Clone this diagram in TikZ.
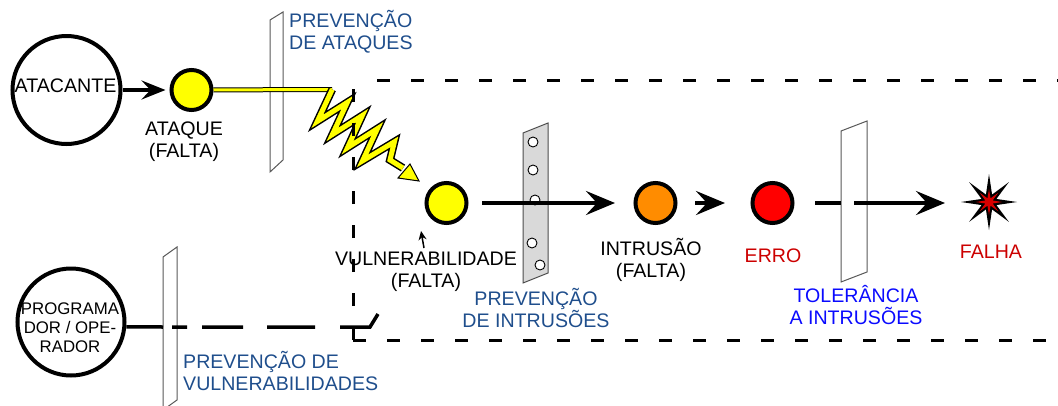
\documentclass[tikz,border=0pt]{standalone}
\usepackage{fontspec}
\setmainfont{Liberation Sans}
\usetikzlibrary{arrows.meta,calc}
\definecolor{dblue}{HTML}{1F4E8C}
\definecolor{tblue}{HTML}{0A0AFF}
\definecolor{dred}{HTML}{CC0000}
\definecolor{orng}{HTML}{FF8C00}
\definecolor{yel}{HTML}{FFFF00}
\definecolor{platefill}{HTML}{D9D9D9}
\newcommand\twoc[2]{\vtop{\halign{\hfil##\hfil\cr#1\cr#2\cr}}}
\newcommand\twol[2]{\vtop{\halign{##\hfil\cr#1\cr#2\cr}}}
\newcommand\threec[3]{\vtop{\halign{\hfil##\hfil\cr#1\cr#2\cr#3\cr}}}
\begin{document}
\begin{tikzpicture}[x=1pt,y=-1pt,
  lbl/.style={font=\fontsize{19.6}{22.5}\selectfont, inner sep=0pt, anchor=base},
  ball/.style={circle, draw, line width=4pt, minimum size=40pt, inner sep=0pt},
  bigc/.style={circle, draw, line width=4pt, minimum size=108pt, inner sep=0pt},
  arr/.style={line width=4pt, -{Stealth[length=29pt,width=24pt,inset=11pt]}},
  plane/.style={draw=black!65, line width=1pt, fill=white},
  frame/.style={line width=3pt, dash pattern=on 13pt off 21pt},
]
\useasboundingbox (0,0) rectangle (1058,405);
\clip (0,0) rectangle (1058,405);

% attacker and attack
\node[bigc] (atacante) at (66.5,90) {};
\node[lbl] (tatac) at (65.5,92) {ATACANTE};
\node[ball, fill=yel] (ataque) at (191.5,90) {};
\node[lbl] (tataq) at (184,135) {\twoc{ATAQUE}{(FALTA)}};
\draw[line width=3.5pt, -{Stealth[length=24pt,width=19pt,inset=9pt]}, shorten >=4pt] (atacante) -- (ataque);

% attack prevention plane
\draw[plane] (270,20) -- (283,12) -- (283,160) -- (270,172) -- cycle;
\node[lbl, anchor=base west, text=dblue] (tpa) at (289,27) {\twol{PREVENÇÃO}{DE ATAQUES}};

% lightning
\coordinate (bolt0) at (332.2,89.5);
\draw[line width=5pt] (ataque) -- (bolt0);
\draw[line width=3pt, yel] (ataque) -- (bolt0);
\def\boltpath{(bolt0) -- (317.3,121.4) -- (347.3,102.4) -- (332.4,134.5) -- (362.3,115.5) -- (347.5,147.7) -- (377.4,128.7) -- (362.5,160.9) -- (394.4,141.8) -- (390,160) -- (403,168)}
\draw[line width=8pt, line join=miter] \boltpath;
\draw[line width=5pt, line join=miter, yel] \boltpath;
\draw[line width=1pt, fill=yel, line join=miter] (398,178) -- (410,164) -- (419,181) -- cycle;

% programmer
\node[bigc, minimum size=107pt] (prog) at (71,322) {};
\node[lbl, font=\fontsize{16.8}{19}\selectfont] (tprog) at (70,314) {\threec{PROGRAMA}{DOR / OPE-}{RADOR}};
\draw[plane] (163,257) -- (177,247) -- (177,400) -- (163,410) -- cycle;
\coordinate (pv) at (163,327);
\draw[line width=3.5pt] (prog.-5) -- (pv);
\coordinate (d0) at (172,327);
\coordinate (d1) at (370,327);
\coordinate (d2) at (378,314);
\draw[line width=3.5pt, dash pattern=on 15pt off 15pt on 41pt off 24pt on 48pt off 25pt on 100pt] (d0) -- (d1) -- (d2);
\node[lbl, anchor=base west, text=dblue] (tpv) at (183,368) {\twol{PREVENÇÃO DE}{VULNERABILIDADES}};

% vulnerability
\node[ball, fill=yel] (vuln) at (446.5,203) {};
\node[lbl] (tvuln) at (426,265) {\twoc{VULNERABILIDADE}{(FALTA)}};
\coordinate (sa0) at (424,248);
\coordinate (sa1) at (421,231);
\draw[line width=1.5pt, -{Stealth[length=9pt,width=8pt]}] (sa0) -- (sa1);

% dashed frame
\draw[frame] (377,80) -- (1058,80);
\draw[frame] (353,340) -- (353,80);
\draw[frame] (353,340) -- (1058,340);

% intrusion prevention plate
\draw[draw=black!70, line width=1pt, fill=platefill] (523,133) -- (548,123) -- (548,273) -- (523,283) -- cycle;
\foreach \hx/\hy in {533/142,533/170,535/200,532/243,540/265}
  \draw[fill=white, line width=0.9pt] (\hx,\hy) ellipse (5 and 5);
\node[lbl, text=dblue] (tpi) at (536,305) {\twoc{PREVENÇÃO}{DE INTRUSÕES}};

% intrusion, error
\node[ball, fill=orng] (intr) at (655.5,203) {};
\node[lbl] (tintr) at (651,255) {\twoc{INTRUSÃO}{(FALTA)}};
\draw[arr, shorten <=13.5pt, shorten >=18.5pt] (vuln) -- (intr);
\node[ball, fill=red] (erro) at (772.5,203) {};
\node[lbl, text=dred] (terro) at (773,262) {ERRO};
\draw[arr, shorten <=17.5pt, shorten >=25.5pt] (intr) -- (erro);

% tolerance plane
\draw[plane] (841,131) -- (867,121) -- (867,272) -- (841,282) -- cycle;
\node[lbl, text=tblue] (ttol) at (856,302) {\twoc{TOLERÂNCIA}{A INTRUSÕES}};
\coordinate (tl) at (841,203);
\coordinate (tm) at (854,203);
\coordinate (falha) at (989,203);
\draw[line width=4pt, shorten <=20.5pt] (erro) -- (tl);
\draw[arr, shorten >=44pt] (tm) -- (falha);

% failure star
\fill[black, shift={(989,202)}] (0:28) \foreach \i in {1,...,15}{ -- ({22.5*\i}:{ifthenelse(mod(\i,2)==0,28,8)}) } -- cycle;
\fill[red!85!black, shift={(989,202)}] (0:13) \foreach \i in {1,...,15}{ -- ({22.5*\i}:{ifthenelse(mod(\i,2)==0,13,4)}) } -- cycle;
\node[lbl, text=dred] (tfalha) at (991,258) {FALHA};
\end{tikzpicture}
\end{document}
